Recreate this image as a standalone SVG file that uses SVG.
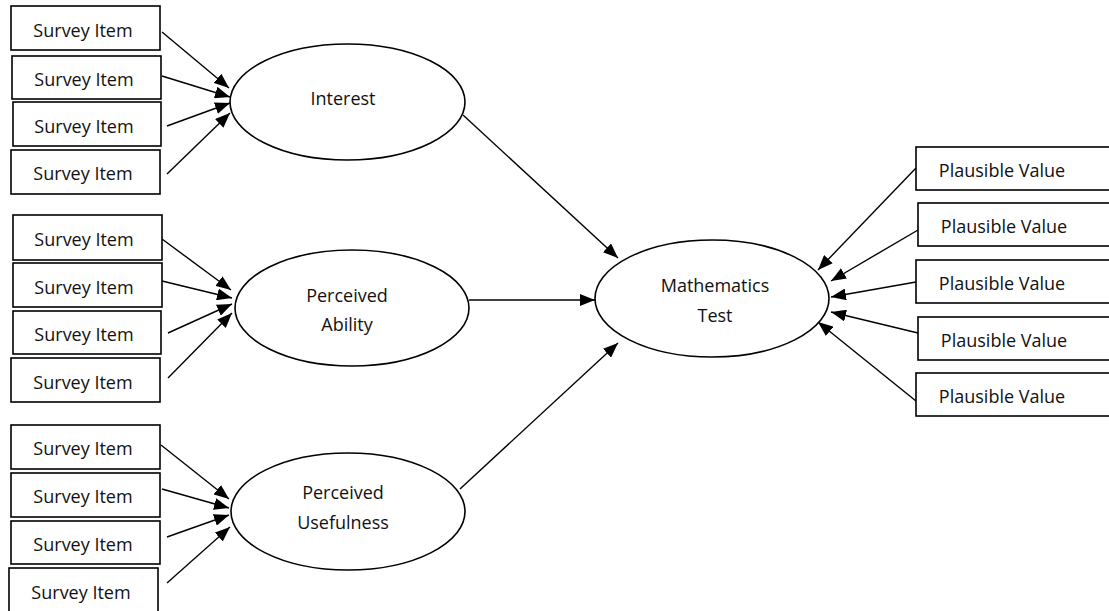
<svg xmlns="http://www.w3.org/2000/svg" width="1109" height="611" viewBox="0 0 1109 611">
<style>
.box{fill:#fff;stroke:#000;stroke-width:1.6}
.ell{fill:#fff;stroke:#000;stroke-width:1.6}
.t{font-family:"Open Sans","Noto Sans","Liberation Sans",sans-serif;font-size:18px;fill:#111;text-anchor:middle}
.c{stroke:#000;stroke-width:1.4;fill:none;marker-end:url(#ah)}
</style>
<defs>
<marker id="ah" markerUnits="userSpaceOnUse" markerWidth="16" markerHeight="12" refX="15" refY="6" orient="auto">
<path d="M0,0 L15,6 L0,12 z" fill="#000"/>
</marker>
</defs>
<rect width="1109" height="611" fill="#fff"/>
<g id="connectors">
<line class="c" x1="162" y1="32" x2="229" y2="88"/>
<line class="c" x1="162" y1="76" x2="230" y2="97"/>
<line class="c" x1="167" y1="126" x2="230" y2="103"/>
<line class="c" x1="167" y1="174" x2="230" y2="113"/>
<line class="c" x1="162" y1="239" x2="231" y2="290"/>
<line class="c" x1="162" y1="281" x2="232" y2="298"/>
<line class="c" x1="168" y1="333" x2="232" y2="304"/>
<line class="c" x1="168" y1="378" x2="232" y2="313"/>
<line class="c" x1="161" y1="445" x2="229" y2="499"/>
<line class="c" x1="162" y1="489" x2="229" y2="508"/>
<line class="c" x1="167" y1="537" x2="229" y2="515"/>
<line class="c" x1="167" y1="583" x2="230" y2="527"/>
<line class="c" x1="463" y1="115" x2="618" y2="258"/>
<line class="c" x1="469" y1="300" x2="595" y2="300"/>
<line class="c" x1="460" y1="489" x2="618" y2="343"/>
<line class="c" x1="916" y1="168" x2="818" y2="270"/>
<line class="c" x1="918" y1="230" x2="831" y2="281"/>
<line class="c" x1="916" y1="282" x2="831" y2="297"/>
<line class="c" x1="918" y1="333" x2="831" y2="312"/>
<line class="c" x1="916" y1="401" x2="818" y2="322"/>
</g>
<g id="si1"><rect class="box" x="11" y="6" width="149" height="44"/><text class="t" x="83" y="37">Survey Item</text></g>
<g id="si2"><rect class="box" x="12" y="56" width="149" height="43"/><text class="t" x="84" y="86">Survey Item</text></g>
<g id="si3"><rect class="box" x="13" y="102" width="148" height="44"/><text class="t" x="84" y="133">Survey Item</text></g>
<g id="si4"><rect class="box" x="11" y="150" width="149" height="44"/><text class="t" x="83" y="180">Survey Item</text></g>
<g id="si5"><rect class="box" x="13" y="215" width="149" height="45"/><text class="t" x="84" y="246">Survey Item</text></g>
<g id="si6"><rect class="box" x="13" y="263" width="149" height="44"/><text class="t" x="84" y="294">Survey Item</text></g>
<g id="si7"><rect class="box" x="13" y="311" width="148" height="43"/><text class="t" x="84" y="341">Survey Item</text></g>
<g id="si8"><rect class="box" x="11" y="358" width="149" height="44"/><text class="t" x="83" y="389">Survey Item</text></g>
<g id="si9"><rect class="box" x="11" y="425" width="149" height="44"/><text class="t" x="83" y="455">Survey Item</text></g>
<g id="si10"><rect class="box" x="11" y="473" width="149" height="44"/><text class="t" x="83" y="503">Survey Item</text></g>
<g id="si11"><rect class="box" x="11" y="521" width="149" height="43"/><text class="t" x="83" y="551">Survey Item</text></g>
<g id="si12"><rect class="box" x="9" y="568" width="149" height="46"/><text class="t" x="81" y="599">Survey Item</text></g>
<g id="interest"><ellipse class="ell" cx="347.5" cy="102" rx="117.5" ry="58"/><text class="t" x="343" y="105">Interest</text></g>
<g id="ability"><ellipse class="ell" cx="352" cy="308" rx="117" ry="58"/><text class="t" x="347" y="302">Perceived</text><text class="t" x="347" y="331">Ability</text></g>
<g id="usefulness"><ellipse class="ell" cx="348" cy="511.5" rx="117" ry="58.5"/><text class="t" x="343" y="499">Perceived</text><text class="t" x="343" y="529">Usefulness</text></g>
<g id="math"><ellipse class="ell" cx="712" cy="298.5" rx="117" ry="58.5"/><text class="t" x="715" y="292">Mathematics</text><text class="t" x="715" y="322">Test</text></g>
<g id="pv1"><rect class="box" x="916" y="147" width="210" height="43"/><text class="t" x="1002" y="177">Plausible Value</text></g>
<g id="pv2"><rect class="box" x="918" y="203" width="210" height="43"/><text class="t" x="1004" y="233">Plausible Value</text></g>
<g id="pv3"><rect class="box" x="916" y="260" width="210" height="43"/><text class="t" x="1002" y="290">Plausible Value</text></g>
<g id="pv4"><rect class="box" x="918" y="317" width="210" height="43"/><text class="t" x="1004" y="347">Plausible Value</text></g>
<g id="pv5"><rect class="box" x="916" y="373" width="210" height="43"/><text class="t" x="1002" y="403">Plausible Value</text></g>
</svg>
